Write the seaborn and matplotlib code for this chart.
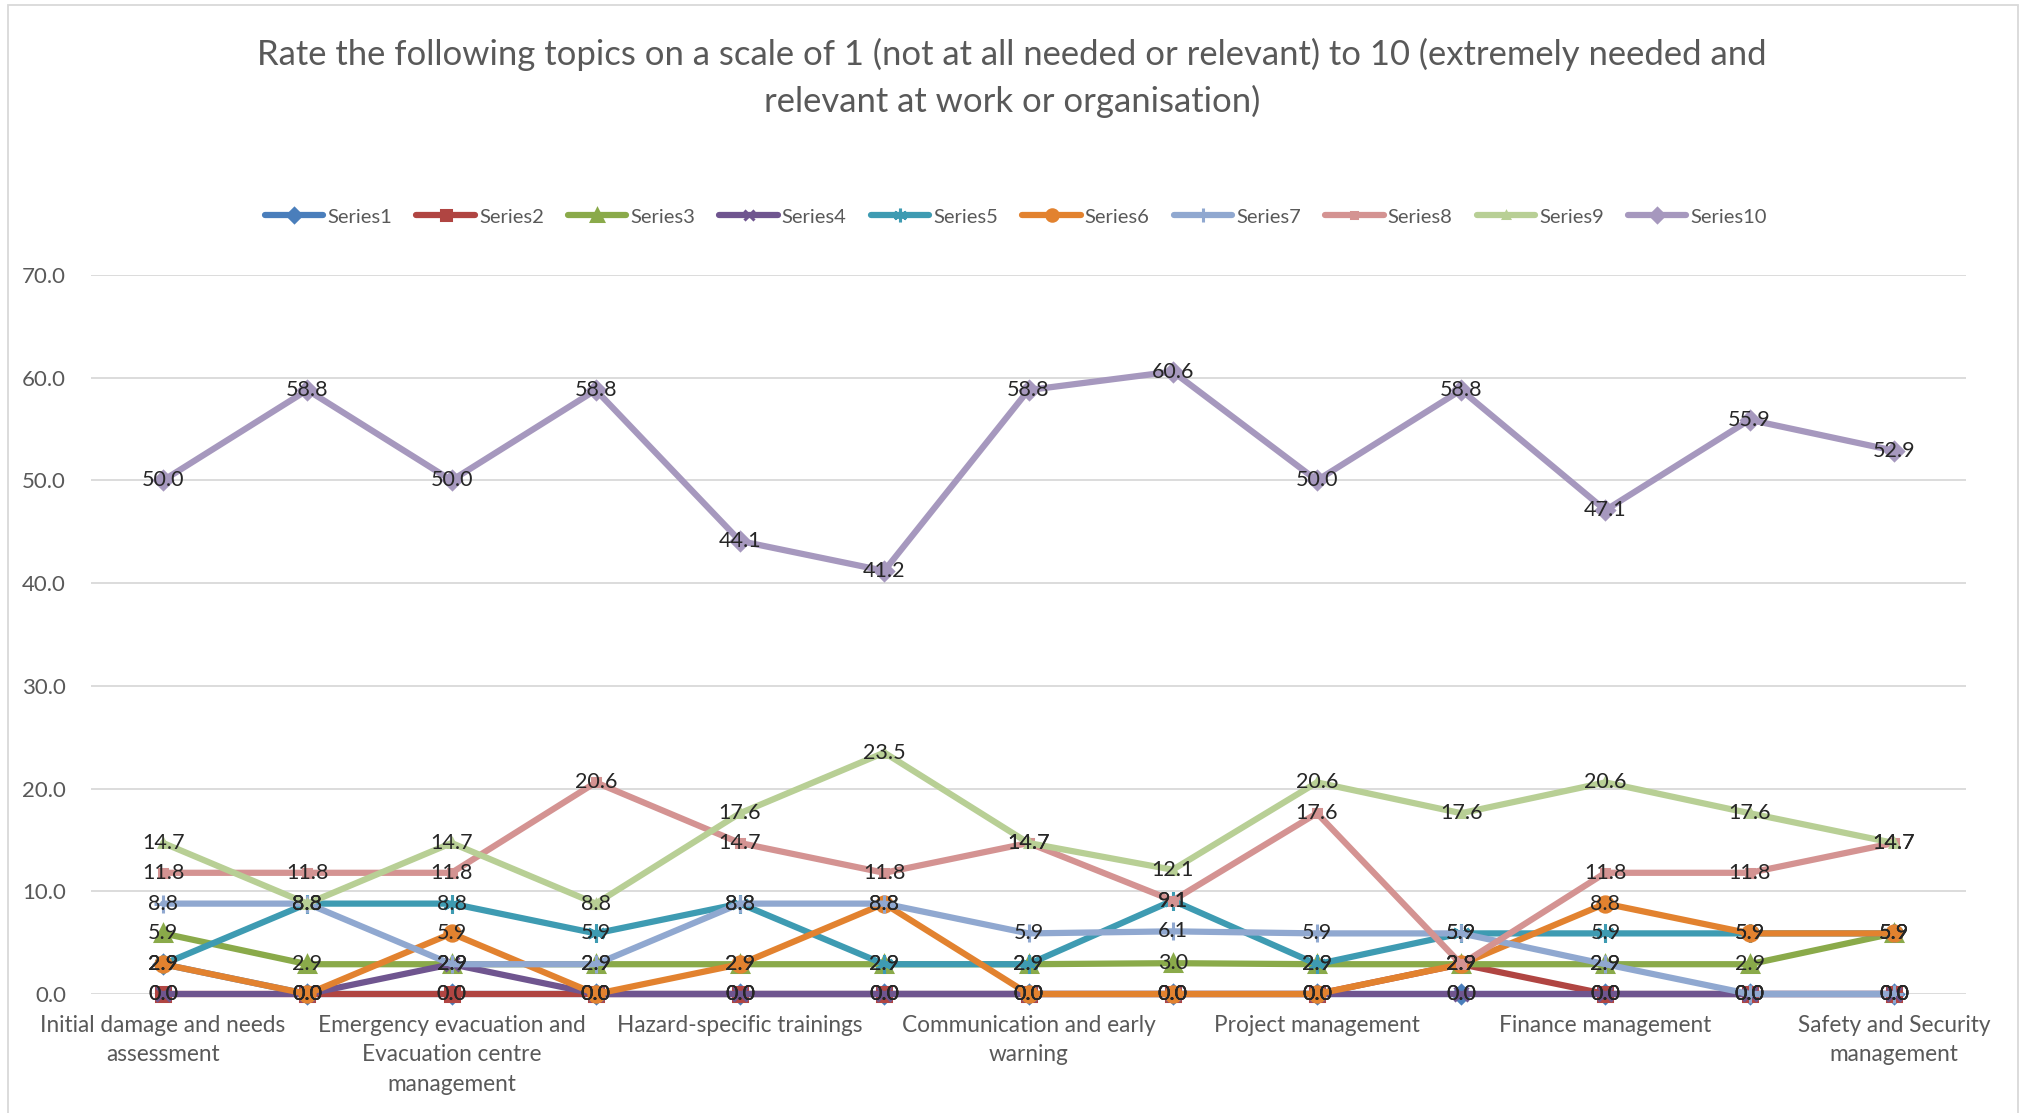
import numpy as np
import pandas as pd
import matplotlib
matplotlib.use("Agg")
import matplotlib.pyplot as plt
from matplotlib.patches import Rectangle
import seaborn as sns

# ---- data -------------------------------------------------------------
title = ("Rate the following topics on a scale of 1 (not at all needed or relevant) to 10 (extremely needed and\n"
         "relevant at work or organisation)")

# 13 topics; only every other one carries a visible axis label
categories = [
    "Initial damage and needs\nassessment", "",
    "Emergency evacuation and\nEvacuation centre\nmanagement", "",
    "Hazard-specific trainings", "",
    "Communication and early\nwarning", "",
    "Project management", "",
    "Finance management", "",
    "Safety and Security\nmanagement",
]

series_names = [f"Series{i}" for i in range(1, 11)]

series1 = [2.9, 0.0, 0.0, 0.0, 0.0, 0.0, 0.0, 0.0, 0.0, 0.0, 0.0, 0.0, 0.0]
series2 = [0.0, 0.0, 0.0, 0.0, 0.0, 0.0, 0.0, 0.0, 0.0, 2.9, 0.0, 0.0, 0.0]
series3 = [5.9, 2.9, 2.9, 2.9, 2.9, 2.9, 2.9, 3.0, 2.9, 2.9, 2.9, 2.9, 5.9]
series4 = [0.0, 0.0, 2.9, 0.0, 0.0, 0.0, 0.0, 0.0, 0.0, 0.0, 0.0, 0.0, 0.0]
series5 = [2.9, 8.8, 8.8, 5.9, 8.8, 2.9, 2.9, 9.1, 2.9, 5.9, 5.9, 5.9, 5.9]
series6 = [2.9, 0.0, 5.9, 0.0, 2.9, 8.8, 0.0, 0.0, 0.0, 2.9, 8.8, 5.9, 5.9]
series7 = [8.8, 8.8, 2.9, 2.9, 8.8, 8.8, 5.9, 6.1, 5.9, 5.9, 2.9, 0.0, 0.0]
series8 = [11.8, 11.8, 11.8, 20.6, 14.7, 11.8, 14.7, 9.1, 17.6, 2.9, 11.8, 11.8, 14.7]
series9 = [14.7, 8.8, 14.7, 8.8, 17.6, 23.5, 14.7, 12.1, 20.6, 17.6, 20.6, 17.6, 14.7]
series10 = [50.0, 58.8, 50.0, 58.8, 44.1, 41.2, 58.8, 60.6, 50.0, 58.8, 47.1, 55.9, 52.9]

all_series = [series1, series2, series3, series4, series5,
              series6, series7, series8, series9, series10]

y_ticks = [0, 10, 20, 30, 40, 50, 60, 70]

# ---- styling ----------------------------------------------------------
colors = ["#4A7EBB", "#B04542", "#8AAA4A", "#6F558F", "#3E9BB2",
          "#E2822F", "#90A8D0", "#D49392", "#B8CF95", "#A698BE"]
markers = ["D", "s", "^", "x", (6, 2, 0), "o", "+", "s", "^", "D"]
msizes = [9, 10, 11, 10, 13, 11, 13, 6, 6, 9]

sns.set_theme(style="white")
FONT = ["Lato", "DejaVu Sans"]
plt.rcParams["font.family"] = FONT
TXT = "#595959"

W, H = 2024, 1113
fig = plt.figure(figsize=(W / 100, H / 100), dpi=100)
ax = fig.add_axes([91 / W, 1 - 994 / H, (1966 - 91) / W, (994 - 275) / H])

rows = []
for name, vals in zip(series_names, all_series):
    for pos, v in enumerate(vals):
        rows.append({"series": name, "pos": pos, "value": v})
df = pd.DataFrame(rows)

for i, name in enumerate(series_names):
    sub = df[df["series"] == name]
    sns.lineplot(data=sub, x="pos", y="value", ax=ax, color=colors[i],
                 marker=markers[i], markersize=msizes[i], markeredgecolor=colors[i],
                 markerfacecolor=colors[i], markeredgewidth=2.2,
                 linewidth=4.5, label=name, sort=False, estimator=None,
                 clip_on=False, zorder=3 + i)

# value labels on every point
for vals in all_series:
    for pos, v in enumerate(vals):
        ax.text(pos, v, f"{v:.1f}", ha="center", va="center", fontsize=15.5,
                color="#262626", zorder=20, clip_on=False)

ax.set_xlim(-0.5, len(categories) - 0.5)
ax.set_ylim(0, 70)
ax.set_yticks(y_ticks)
ax.set_yticklabels([f"{t:.1f}" for t in y_ticks], fontsize=16, color=TXT)
ax.set_xticks(range(len(categories)))
ax.set_xticklabels(categories, fontsize=16.3, color=TXT, linespacing=1.5, va="top")
ax.tick_params(axis="both", length=0)
ax.tick_params(axis="x", pad=15)
ax.tick_params(axis="y", pad=18)
ax.set_xlabel("")
ax.set_ylabel("")
ax.grid(axis="y", color="#D9D9D9", linewidth=1.3)
ax.set_axisbelow(True)
for s in ax.spines.values():
    s.set_visible(False)

ax.legend(loc="center", bbox_to_anchor=(1016 / W, 1 - 217 / H),
          bbox_transform=fig.transFigure, ncol=10, frameon=False,
          fontsize=14.5, handlelength=2.9, handletextpad=0.2,
          columnspacing=1.2, labelcolor=TXT, markerscale=0.75)

fig.text(0.5, 1 - 78 / H, title, ha="center", va="center", fontsize=24.9,
         color=TXT, linespacing=1.5)

fig.patches.append(Rectangle((8 / W, -0.02), (2018 - 8) / W, 1.02 - 5 / H,
                             transform=fig.transFigure, fill=False,
                             edgecolor="#D9D9D9", linewidth=1.3))

fig.savefig("out.png", dpi=100, facecolor="white")
